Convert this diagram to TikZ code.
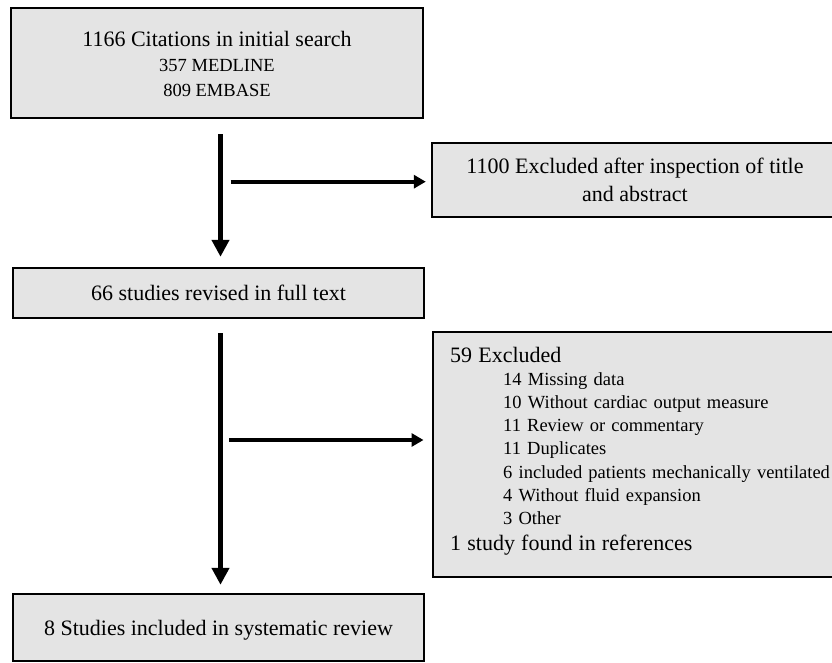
\documentclass[tikz,border=0pt]{standalone}
\usepackage{fontspec}
\setmainfont{Liberation Serif}
\usetikzlibrary{arrows.meta}
\definecolor{boxgray}{HTML}{E4E4E4}
\begin{document}
\begin{tikzpicture}[x=1pt,y=-1pt,
  box/.style={draw=black, fill=boxgray, line width=2.4pt, rectangle, inner sep=0pt, align=center},
  bigfont/.style={font=\fontsize{22}{28}\selectfont},
  smallfont/.style={font=\fontsize{18.5}{25}\selectfont},
  varrow/.style={line width=5pt, -{Triangle[length=17pt,width=17pt]}},
  harrow/.style={line width=4pt, -{Triangle[length=12pt,width=13pt]}}]
\useasboundingbox (0,0) rectangle (832,663);

\node[box, smallfont, minimum width=412pt, minimum height=110pt, text height=68pt, text depth=0pt] (cit) at (217,63)
  {{\fontsize{22}{25}\selectfont 1166 Citations in initial search}\\357 MEDLINE\\809 EMBASE};

\node[box, bigfont, minimum width=406pt, minimum height=74pt, text height=42pt, text depth=0pt] (ex1) at (635,180)
  {1100 Excluded after inspection of title\\and abstract};

\node[box, bigfont, minimum width=411pt, minimum height=50pt, text height=15pt, text depth=1pt] (rev) at (218.5,293)
  {66 studies revised in full text};

\node[box, anchor=west, align=left, font=\fontsize{18.5}{23.2}\selectfont, text width=400pt, inner xsep=17pt, inner ysep=0pt,
  minimum height=245pt, text height=15pt, text depth=200pt] (ex2) at (432,454.5)
  {{\fontsize{22}{23.2}\selectfont 59 Excluded}\\
   \hspace*{53pt}14 Missing data\\
   \hspace*{53pt}10 Without cardiac output measure\\
   \hspace*{53pt}11 Review or commentary\\
   \hspace*{53pt}11 Duplicates\\
   \hspace*{53pt}6 included patients mechanically ventilated\\
   \hspace*{53pt}4 Without fluid expansion\\
   \hspace*{53pt}3 Other\\[3pt]
   {\fontsize{22}{23.2}\selectfont 1 study found in references}};

\node[box, bigfont, minimum width=411pt, minimum height=67pt, text height=20pt, text depth=5pt] (inc) at (218.5,627.5)
  {8 Studies included in systematic review};

\draw[varrow, shorten <=15pt, shorten >=10pt] ([xshift=3.5pt]cit.south) -- ([xshift=3.5pt]cit.south |- rev.north);
\draw[varrow, shorten <=14pt, shorten >=8pt] ([xshift=2pt]rev.south) -- ([xshift=2pt]rev.south |- inc.north);

\coordinate (h1) at (230.5,181.7);
\coordinate (h2) at (229,440);
\draw[harrow, shorten >=5pt] (h1) -- (h1 -| ex1.west);
\draw[harrow, shorten >=8.5pt] (h2) -- (h2 -| ex2.west);
\end{tikzpicture}
\end{document}
